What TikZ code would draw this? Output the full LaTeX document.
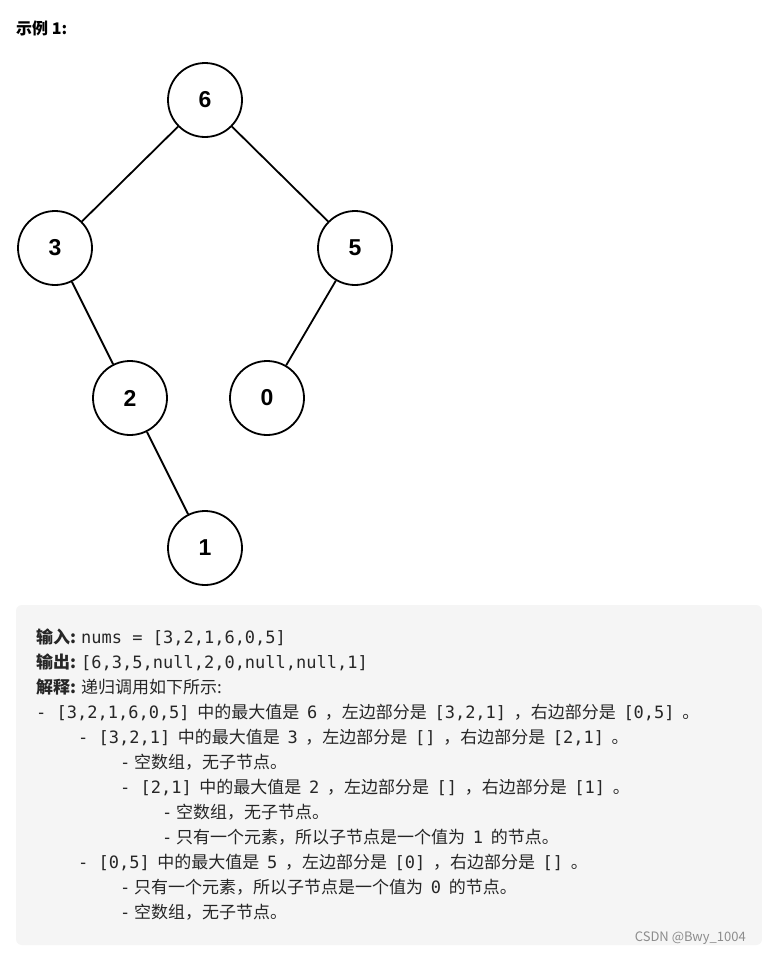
\documentclass[tikz,border=0pt]{standalone}
\usepackage{fontspec}
\setmainfont{Noto Sans CJK SC}
\setmonofont{DejaVu Sans Mono}
\newcommand{\cd}[1]{{\ttfamily #1}}
\newcommand{\gp}{\hspace{0.45em}}
\begin{document}
\begin{tikzpicture}[x=1pt,y=-1pt,
  tn/.style={circle,draw,line width=1.8pt,minimum size=74pt,inner sep=0pt,font=\fontsize{23}{26}\selectfont\bfseries\sffamily},
  edge/.style={line width=1.8pt},
  ln/.style={anchor=base west,inner sep=0pt,font=\fontsize{17}{20}\selectfont,text=black!85}]
\useasboundingbox (0,0) rectangle (762,953);
\fill[white] (0,0) rectangle (762,953);
\node[anchor=base west,inner sep=0pt,font=\fontsize{16}{18}\selectfont\bfseries] (title) at (16,34) {示例 1:};
\node[tn] (n6) at (205,100) {\setmainfont{Liberation Sans}\bfseries 6};
\node[tn] (n3) at (55,248) {\setmainfont{Liberation Sans}\bfseries 3};
\node[tn] (n5) at (355,248) {\setmainfont{Liberation Sans}\bfseries 5};
\node[tn] (n2) at (130,398) {\setmainfont{Liberation Sans}\bfseries 2};
\node[tn] (n0) at (267,398) {\setmainfont{Liberation Sans}\bfseries 0};
\node[tn] (n1) at (205,548) {\setmainfont{Liberation Sans}\bfseries 1};
\draw[edge] (n6) -- (n3);
\draw[edge] (n6) -- (n5);
\draw[edge] (n3) -- (n2);
\draw[edge] (n5) -- (n0);
\draw[edge] (n2) -- (n1);
\fill[black!4, rounded corners=6pt] (16,605) rectangle (762,945);
\node[ln] (l1) at (36,643) {\textbf{输入:} \cd{nums = [3,2,1,6,0,5]}};
\node[ln] (l2) at (36,668) {\textbf{输出:} \cd{[6,3,5,null,2,0,null,null,1]}};
\node[ln] (l3) at (36,693) {\textbf{解释:} 递归调用如下所示:};
\node[ln] (l4) at (36,718) {\cd{- [3,2,1,6,0,5]}\gp 中的最大值是\gp\cd{6}\gp ，左边部分是\gp\cd{[3,2,1]}\gp ，右边部分是\gp\cd{[0,5]}\gp 。};
\node[ln] (l5) at (78,743) {\cd{- [3,2,1]}\gp 中的最大值是\gp\cd{3}\gp ，左边部分是\gp\cd{[]}\gp ，右边部分是\gp\cd{[2,1]}\gp 。};
\node[ln] (l6) at (120,768) {\cd{-} 空数组，无子节点。};
\node[ln] (l7) at (120,793) {\cd{- [2,1]}\gp 中的最大值是\gp\cd{2}\gp ，左边部分是\gp\cd{[]}\gp ，右边部分是\gp\cd{[1]}\gp 。};
\node[ln] (l8) at (162,818) {\cd{-} 空数组，无子节点。};
\node[ln] (l9) at (162,843) {\cd{-} 只有一个元素，所以子节点是一个值为\gp\cd{1}\gp 的节点。};
\node[ln] (l10) at (78,868) {\cd{- [0,5]}\gp 中的最大值是\gp\cd{5}\gp ，左边部分是\gp\cd{[0]}\gp ，右边部分是\gp\cd{[]}\gp 。};
\node[ln] (l11) at (120,893) {\cd{-} 只有一个元素，所以子节点是一个值为\gp\cd{0}\gp 的节点。};
\node[ln] (l12) at (120,918) {\cd{-} 空数组，无子节点。};
\node[anchor=base east,inner sep=0pt,font=\fontsize{13}{15}\selectfont,text=black!45] (wm) at (746,941) {CSDN @Bwy\_1004};
\end{tikzpicture}
\end{document}
